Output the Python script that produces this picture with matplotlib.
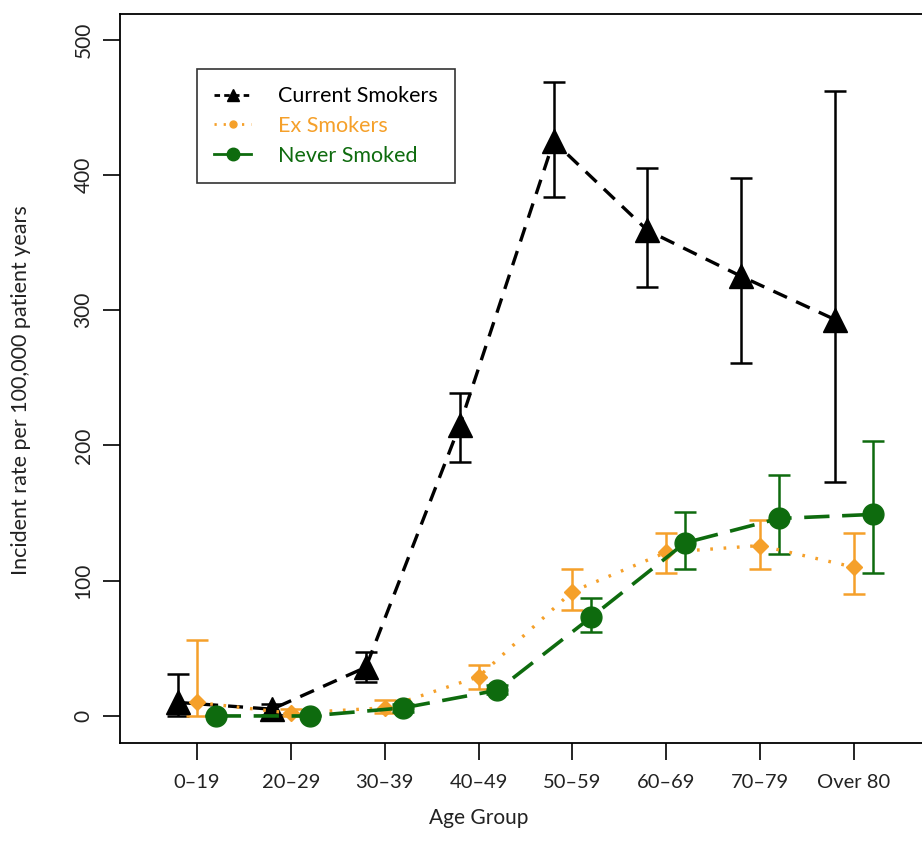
import matplotlib
matplotlib.use("Agg")
import matplotlib.pyplot as plt
from matplotlib.lines import Line2D
import numpy as np

# ---- data ----
age_groups = ["0\u201319", "20\u201329", "30\u201339", "40\u201349",
              "50\u201359", "60\u201369", "70\u201379", "Over 80"]

current = [10, 5, 36, 215, 425, 359, 325, 293]
current_lo = [0, 1, 25, 188, 384, 317, 261, 173]
current_hi = [31, 9, 47, 239, 469, 405, 398, 462]

ex = [10, 2, 6, 29, 92, 121, 126, 110]
ex_lo = [0, 0, 2, 20, 78, 106, 109, 90]
ex_hi = [56, 5, 12, 38, 109, 135, 145, 135]

never = [0, 0, 6, 19, 73, 128, 146, 149]
never_lo = [0, 0, 3, 16, 62, 109, 120, 106]
never_hi = [1, 1, 9, 23, 87, 151, 178, 203]

BLACK = "black"
ORANGE = "#F5A02A"
GREEN = "#0E6B0E"

plt.rcParams['font.family'] = ['Lato', 'DejaVu Sans']

fig = plt.figure(figsize=(9.22, 8.59), dpi=100)
# axes box runs off the right edge like the reference
ax = fig.add_axes([120 / 922, 1 - 743 / 859, (945 - 120) / 922, (743 - 14) / 859])

x = np.arange(1, len(age_groups) + 1)
off = 0.2


def draw(xs, ys, lo, hi, color, marker, ms, lw, dashes):
    yerr = [np.array(ys) - np.array(lo), np.array(hi) - np.array(ys)]
    ax.errorbar(xs, ys, yerr=yerr, fmt="none", ecolor=color, elinewidth=1.8,
                capsize=8, capthick=1.8, zorder=2)
    line, = ax.plot(xs, ys, color=color, lw=lw, marker=marker,
                    ms=ms, markeredgecolor=color, markerfacecolor=color, zorder=3)
    line.set_dashes(dashes)


draw(x - off, current, current_lo, current_hi, BLACK, "^", 17, 2.4, (4.5, 3))
draw(x, ex, ex_lo, ex_hi, ORANGE, "D", 8, 2.4, (0.8, 3.2))
draw(x + off, never, never_lo, never_hi, GREEN, "o", 15, 2.6, (7, 3.5))

ax.set_xlim(0.18, 8.97)
ax.set_ylim(-20, 519)
ax.set_xticks(x)
ax.set_xticklabels(age_groups, fontsize=14.5, color="#222222")
ax.set_yticks([0, 100, 200, 300, 400, 500])
ax.set_yticklabels(["0", "100", "200", "300", "400", "500"], rotation=90,
                   va="center", fontsize=15, color="#222222")
ax.tick_params(axis="x", direction="out", length=12, width=1.2, pad=10)
ax.tick_params(axis="y", direction="out", length=12, width=1.2, pad=7)
for s in ax.spines.values():
    s.set_linewidth(1.3)

fig.text(479 / 922, 1 - 818 / 859, "Age Group", ha="center", va="center",
         fontsize=15, color="#222222")
fig.text(21 / 922, 1 - 390 / 859, "Incident rate per 100,000 patient years",
         ha="center", va="center", rotation=90, fontsize=15.5, color="#222222")

handles = [
    Line2D([], [], color=BLACK, ls="--", lw=2, marker="^", ms=9, dashes=(2, 1.5)),
    Line2D([], [], color=ORANGE, ls=":", lw=2, marker="o", ms=5, dashes=(0.8, 2.5)),
    Line2D([], [], color=GREEN, ls="-", lw=2, marker="o", ms=9),
]
leg = fig.legend(handles, ["Current Smokers", "Ex Smokers", "Never Smoked"],
                 loc="upper left", bbox_to_anchor=(197 / 922, 1 - 69 / 859),
                 fontsize=15.5, frameon=True, fancybox=False, edgecolor="black",
                 handlelength=1.7, borderpad=0.8, labelspacing=0.45,
                 handletextpad=1.25, borderaxespad=0)
leg.get_frame().set_linewidth(1.2)
for t, c in zip(leg.get_texts(), [BLACK, ORANGE, GREEN]):
    t.set_color(c)

fig.savefig("out.png", dpi=100)
